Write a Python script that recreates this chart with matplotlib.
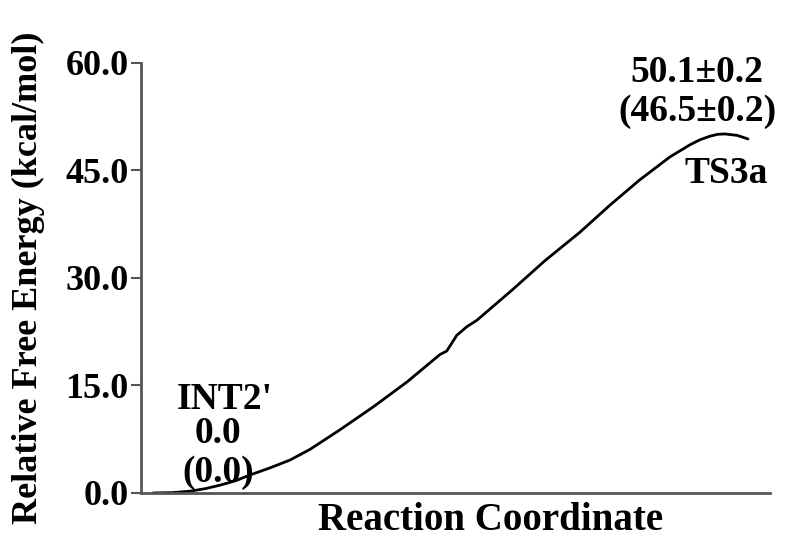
import numpy as np
import matplotlib
matplotlib.use("Agg")
import matplotlib.pyplot as plt

# reaction coordinate (arbitrary units, 0..1) and free energy (kcal/mol)
rc = [0.019, 0.050, 0.078, 0.102, 0.126, 0.150, 0.173, 0.205, 0.237, 0.269,
      0.316, 0.369, 0.423, 0.475, 0.486, 0.494, 0.502, 0.518, 0.534, 0.591,
      0.642, 0.698, 0.746, 0.793, 0.841, 0.873, 0.889, 0.905, 0.917, 0.928,
      0.948, 0.965]
energy = [0.0, 0.05, 0.25, 0.6, 1.1, 1.7, 2.5, 3.5, 4.6, 6.1,
          8.8, 12.0, 15.5, 19.3, 19.8, 20.9, 22.0, 23.2, 24.1, 28.4,
          32.4, 36.4, 40.2, 43.7, 46.9, 48.6, 49.3, 49.8, 50.05, 50.1,
          49.9, 49.4]

yticks = [0.0, 15.0, 30.0, 45.0, 60.0]

serif = ["Liberation Serif", "DejaVu Serif"]
plt.rcParams["font.family"] = serif
plt.rcParams["font.weight"] = "bold"

fig = plt.figure(figsize=(8.0, 5.59), dpi=100, facecolor="white")
ax = fig.add_axes([0.17625, 0.1181, 0.78625, 0.7692])

ax.plot(rc, energy, color="black", linewidth=2.0, solid_capstyle="round",
        solid_joinstyle="round")

ax.set_xlim(0, 1)
ax.set_ylim(0, 60)
ax.set_xticks([])
ax.set_yticks(yticks)
ax.set_yticklabels([f"{v:.1f}" for v in yticks], fontsize=26, fontweight="bold")
ax.tick_params(axis="y", direction="out", length=7, width=1.5, color="#555555", pad=2)

for side in ["top", "right"]:
    ax.spines[side].set_visible(False)
for side in ["left", "bottom"]:
    ax.spines[side].set_color("#555555")
    ax.spines[side].set_linewidth(2)

ax.set_xlabel("Reaction Coordinate", fontsize=28, fontweight="bold")
ax.xaxis.set_label_coords(0.555, -0.02)
ax.set_ylabel("Relative Free Energy (kcal/mol)", fontsize=26, fontweight="bold")
ax.yaxis.set_label_coords(-0.152, 0.5)

ann = dict(fontsize=27, fontweight="bold", ha="center", va="center")
ax.text(0.884, 58.7, "50.1±0.2", **ann)
ax.text(0.884, 53.2, "(46.5±0.2)", **ann)
ax.text(0.930, 44.6, "TS3a", **ann)
ax.text(0.133, 13.0, "INT2'", **ann)
ax.text(0.123, 8.3, "0.0", **ann)
ax.text(0.123, 2.8, "(0.0)", **ann)

fig.savefig("out.png", dpi=100, facecolor="white")
